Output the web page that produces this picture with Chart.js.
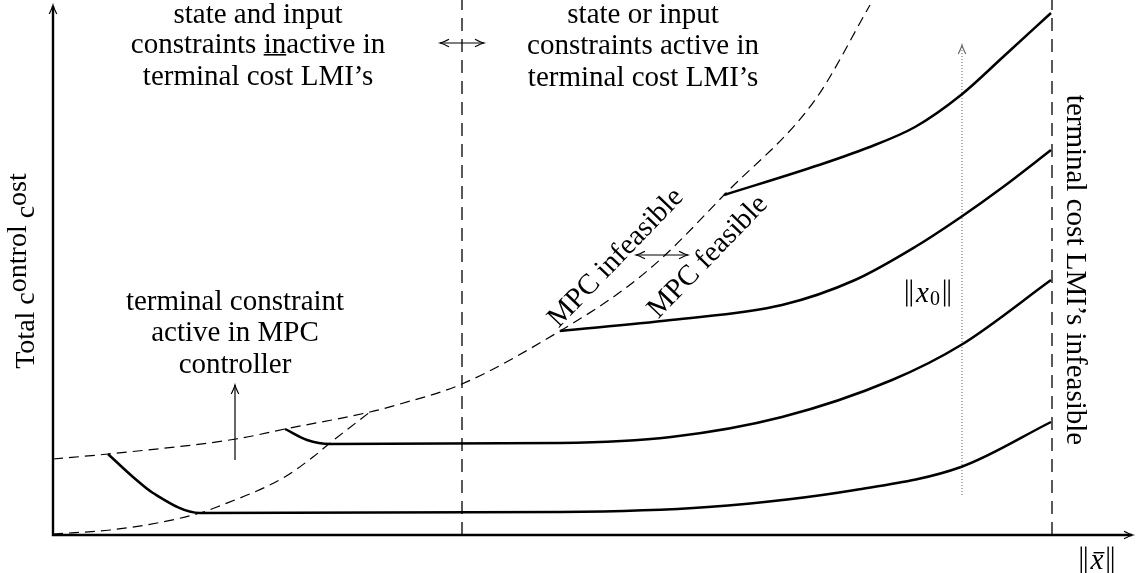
<!DOCTYPE html>
<html>
<head>
<meta charset="utf-8">
<script src="https://cdn.jsdelivr.net/npm/chart.js@4/dist/chart.umd.min.js"></script>
<style>
  body { margin: 0; background: #fff; }
</style>
</head>
<body>
<canvas id="grafico" width="1139" height="573"></canvas>
<script>
// eixo x: ||x̄||, eixo y: custo total (unidades arbitrarias)
const limiteA = [[0, 76], [55, 81], [183, 96], [232, 106], [317, 123], [347, 131], [409, 151], [507, 204], [570, 245], [610, 278], [671, 340], [762, 435], [817, 530]];
const limiteB = [[0, 1], [57, 5], [104, 12], [147, 22], [164, 28], [230, 57], [260, 78], [277, 92], [317, 123]];

const custo1 = [[55, 81], [80, 58], [100, 42], [147, 22], [507, 23], [655, 28], [802, 45], [908, 68], [998, 113]];
const custo2 = [[232, 106], [254, 95], [277, 91], [507, 92], [618, 98], [729, 118], [839, 155], [908, 190], [998, 255]];
const custo3 = [[507, 204], [618, 215], [729, 230], [802, 255], [862, 288], [908, 318], [950, 348], [998, 385]];
const custo4 = [[671, 340], [766, 370], [814, 387], [862, 408], [908, 440], [950, 478], [998, 522]];

const divisaoLmi = [[409, 0], [409, 535]];
const limiteLmi = [[999, 0], [999, 535]];
const setaX0 = [[909, 40], [909, 490]];
const setaTerminal = [[182, 75], [182, 150]];
const setaLmi = [[387, 492], [431, 492]];
const setaMpc = [[583, 280], [635, 280]];

const fonte = '"Liberation Serif", "DejaVu Serif", serif';

function pontos(lista) {
    return lista.map(p => ({ x: p[0], y: p[1] }));
}

function ponta(ctx, x, y, ang, cor) {
    const L = 9, h = 3.8;
    ctx.save();
    ctx.translate(x, y);
    ctx.rotate(ang);
    ctx.strokeStyle = cor || "#000";
    ctx.lineWidth = 1.1;
    ctx.setLineDash([]);
    ctx.beginPath();
    ctx.moveTo(-L, -h);
    ctx.quadraticCurveTo(-L * 0.35, -0.8, 0, 0);
    ctx.quadraticCurveTo(-L * 0.35, 0.8, -L, h);
    ctx.stroke();
    ctx.restore();
}

const textos = [
    { t: "state and input", x: 205, y: 520 },
    { t: "constraints inactive in", x: 205, y: 490, sub: "constraints " },
    { t: "terminal cost LMI\u2019s", x: 205, y: 458 },
    { t: "state or input", x: 590, y: 520 },
    { t: "constraints active in", x: 590, y: 489 },
    { t: "terminal cost LMI\u2019s", x: 590, y: 457 },
    { t: "terminal constraint", x: 182, y: 233 },
    { t: "active in MPC", x: 182, y: 202 },
    { t: "controller", x: 182, y: 170 },
    { t: "MPC infeasible", x: 563, y: 277, rot: -46 },
    { t: "MPC feasible", x: 655, y: 278, rot: -46 },
    { t: "terminal cost LMI\u2019s infeasible", x: 1022, y: 265, rot: 90 }
];

const desenho = {
    id: "desenho",
    beforeDatasetsDraw(chart) {
        const ctx = chart.ctx;
        const a = chart.chartArea;
        ctx.save();
        ctx.strokeStyle = "#000";
        ctx.lineWidth = 2.4;
        ctx.beginPath();
        ctx.moveTo(a.left, a.top + 6);
        ctx.lineTo(a.left, a.bottom);
        ctx.lineTo(a.right - 1, a.bottom);
        ctx.stroke();
        ctx.restore();
        ponta(ctx, a.left, a.top + 5, -Math.PI / 2);
        ponta(ctx, a.right, a.bottom, 0);
    },
    afterDatasetsDraw(chart) {
        const ctx = chart.ctx;
        const sx = chart.scales.x, sy = chart.scales.y;
        const a = chart.chartArea;

        chart.data.datasets.forEach((ds, i) => {
            if (!ds.seta) return;
            const pts = chart.getDatasetMeta(i).data;
            const p0 = pts[0], p1 = pts[pts.length - 1];
            const ang = Math.atan2(p1.y - p0.y, p1.x - p0.x);
            ponta(ctx, p1.x, p1.y, ang, ds.borderColor);
            if (ds.seta === "ambas") ponta(ctx, p0.x, p0.y, ang + Math.PI, ds.borderColor);
        });

        ctx.save();
        ctx.fillStyle = "#000";
        ctx.font = "29px " + fonte;
        ctx.textAlign = "center";
        ctx.textBaseline = "middle";
        textos.forEach(tx => {
            const px = sx.getPixelForValue(tx.x), py = sy.getPixelForValue(tx.y);
            ctx.save();
            ctx.translate(px, py);
            if (tx.rot) ctx.rotate(tx.rot * Math.PI / 180);
            ctx.fillText(tx.t, 0, 0);
            if (tx.sub) {
                const w = ctx.measureText(tx.t).width;
                const ini = -w / 2 + ctx.measureText(tx.sub).width;
                const wIn = ctx.measureText("in").width;
                ctx.fillRect(ini, 9, wIn, 1.6);
            }
            ctx.restore();
        });

        // titulo do eixo y, com o deslocamento estranho do original
        ctx.save();
        ctx.font = "28px " + fonte;
        ctx.translate(a.left - 26, 271);
        ctx.rotate(-Math.PI / 2);
        ctx.textAlign = "left";
        const partes = [["Total c", 0], ["ontrol", -8], [" c", 0], ["ost", -8]];
        let total = 0;
        partes.forEach(p => total += ctx.measureText(p[0]).width);
        let cx = -total / 2;
        partes.forEach(p => {
            ctx.fillText(p[0], cx, p[1]);
            cx += ctx.measureText(p[0]).width;
        });
        ctx.restore();

        // ||x0||
        norma(ctx, sx.getPixelForValue(875), sy.getPixelForValue(242), true);
        // ||x̄||
        norma(ctx, sx.getPixelForValue(1044), sy.getPixelForValue(-25), false);
        ctx.restore();
    }
};

function barras(ctx, x, cy) {
    ctx.fillRect(x, cy - 13.5, 1.4, 27);
    ctx.fillRect(x + 4.5, cy - 13.5, 1.4, 27);
}

function norma(ctx, cx, cy, comIndice) {
    ctx.save();
    ctx.fillStyle = "#000";
    ctx.textAlign = "left";
    ctx.textBaseline = "middle";
    const fi = "italic 29px " + fonte, fs = "20px " + fonte;
    ctx.font = fi;
    const wx = ctx.measureText("x").width;
    ctx.font = fs;
    const ws = comIndice ? ctx.measureText("0").width + 1 : 0;
    const wb = 6;
    const total = 2 * wb + wx + ws + 8;
    let x = cx - total / 2;
    barras(ctx, x, cy);
    x += wb + 4;
    ctx.font = fi;
    ctx.fillText("x", x, cy + 1);
    if (!comIndice) ctx.fillRect(x + 3, cy - 8, wx - 2, 1.4);
    x += wx;
    if (comIndice) {
        ctx.font = fs;
        ctx.fillText("0", x + 1, cy + 7);
        x += ws;
    }
    x += 4;
    barras(ctx, x, cy);
    ctx.restore();
}

const base = { borderColor: "#000", pointRadius: 0, showLine: true, fill: false };

const grafico = new Chart(document.getElementById("grafico").getContext("2d"), {
    type: "scatter",
    data: {
        datasets: [
            { ...base, data: pontos(limiteA), borderWidth: 1.2, borderDash: [10, 6], cubicInterpolationMode: "monotone" },
            { ...base, data: pontos(limiteB), borderWidth: 1.2, borderDash: [10, 6], cubicInterpolationMode: "monotone" },
            { ...base, data: pontos(divisaoLmi), borderWidth: 1.3, borderDash: [13, 8] },
            { ...base, data: pontos(limiteLmi), borderWidth: 1.3, borderDash: [13, 8] },
            { ...base, data: pontos(custo1), borderWidth: 2.5, cubicInterpolationMode: "monotone" },
            { ...base, data: pontos(custo2), borderWidth: 2.5, cubicInterpolationMode: "monotone" },
            { ...base, data: pontos(custo3), borderWidth: 2.5, cubicInterpolationMode: "monotone" },
            { ...base, data: pontos(custo4), borderWidth: 2.5, cubicInterpolationMode: "monotone" },
            { ...base, data: pontos(setaX0), borderWidth: 1, borderDash: [1, 2], borderColor: "#666", seta: "fim" },
            { ...base, data: pontos(setaTerminal), borderWidth: 1.2, seta: "fim" },
            { ...base, data: pontos(setaLmi), borderWidth: 1.1, seta: "ambas" },
            { ...base, data: pontos(setaMpc), borderWidth: 1.1, seta: "ambas" }
        ]
    },
    options: {
        responsive: false,
        animation: false,
        layout: { padding: { left: 53, right: 6, top: 0, bottom: 38 } },
        plugins: { legend: { display: false }, tooltip: { enabled: false } },
        scales: {
            x: { type: "linear", display: false, min: 0, max: 1080 },
            y: { type: "linear", display: false, min: 0, max: 535 }
        }
    },
    plugins: [desenho]
});
</script>
</body>
</html>
